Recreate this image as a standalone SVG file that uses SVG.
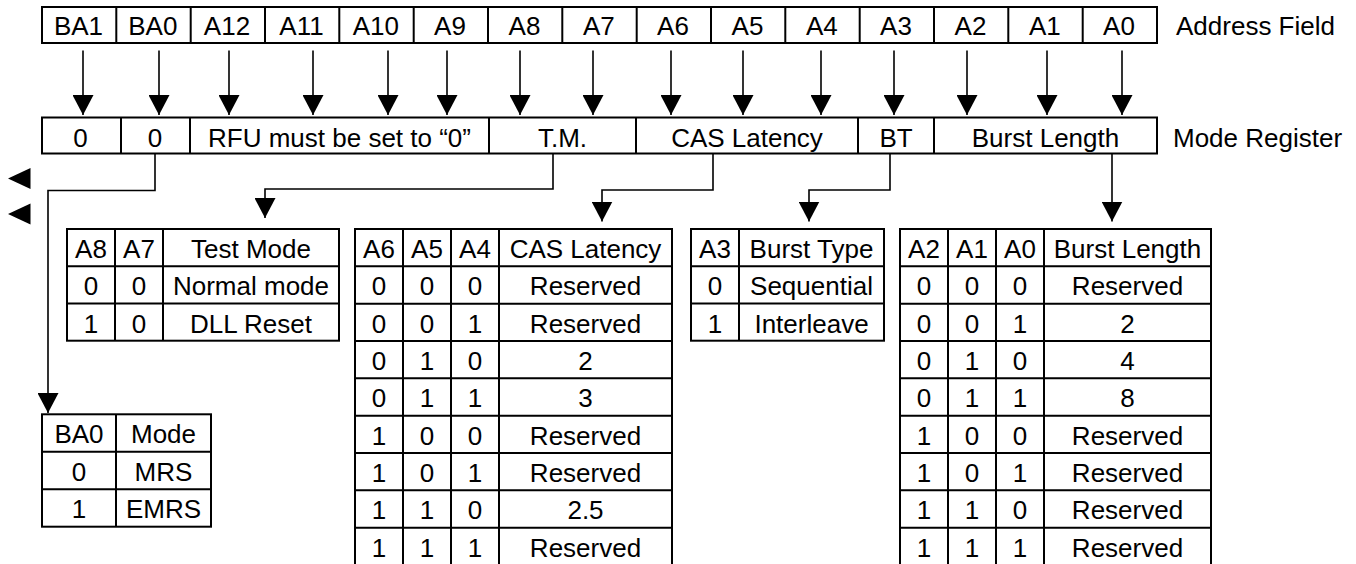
<svg xmlns="http://www.w3.org/2000/svg" width="1356" height="564" viewBox="0 0 1356 564">
<style>
.box{fill:#fff;stroke:#000;stroke-width:2}
.ln{fill:none;stroke:#000;stroke-width:2}
.c{fill:none;stroke:#000;stroke-width:1.6}
text{font-family:"Liberation Sans",Arial,sans-serif;font-size:26px;fill:#000}
.m{text-anchor:middle}
</style>
<defs>
<marker id="ah" viewBox="0 0 20 21" refX="20" refY="10.5" markerWidth="20" markerHeight="21" markerUnits="userSpaceOnUse" orient="auto">
<path d="M0,0 L20,10.5 L0,21 z" fill="#000"/>
</marker>
</defs>
<rect width="1356" height="564" fill="#fff"/>

<g id="address-field">
<rect class="box" x="42" y="7" width="1115" height="36"/>
<path class="ln" d="M116.3,7V43M190.7,7V43M265,7V43M339.3,7V43M413.7,7V43M488,7V43M562.3,7V43M636.7,7V43M711,7V43M785.3,7V43M859.7,7V43M934,7V43M1008.3,7V43M1082.7,7V43"/>
<g class="m">
<text x="78.5" y="34.5">BA1</text>
<text x="152.8" y="34.5">BA0</text>
<text x="227" y="34.5">A12</text>
<text x="301.5" y="34.5">A11</text>
<text x="375.8" y="34.5">A10</text>
<text x="450" y="34.5">A9</text>
<text x="524.5" y="34.5">A8</text>
<text x="598.8" y="34.5">A7</text>
<text x="673" y="34.5">A6</text>
<text x="747.5" y="34.5">A5</text>
<text x="821.8" y="34.5">A4</text>
<text x="896" y="34.5">A3</text>
<text x="970.5" y="34.5">A2</text>
<text x="1044.8" y="34.5">A1</text>
<text x="1119" y="34.5">A0</text>
</g>
<text x="1176" y="34.5">Address Field</text>
</g>

<g id="mode-register">
<rect class="box" x="42" y="117.5" width="1115" height="36"/>
<path class="ln" d="M121,117.5V153.5M190,117.5V153.5M489,117.5V153.5M636,117.5V153.5M858,117.5V153.5M934,117.5V153.5"/>
<g class="m">
<text x="80.5" y="146.5">0</text>
<text x="155" y="146.5">0</text>
<text x="339.5" y="146.5">RFU must be set to “0”</text>
<text x="562.5" y="146.5">T.M.</text>
<text x="747" y="146.5">CAS Latency</text>
<text x="896" y="146.5">BT</text>
<text x="1045.5" y="146.5">Burst Length</text>
</g>
<text x="1173" y="146.5">Mode Register</text>
</g>

<g id="connectors">
<path class="c" marker-end="url(#ah)" d="M83,50.5V115"/>
<path class="c" marker-end="url(#ah)" d="M159,50.5V115"/>
<path class="c" marker-end="url(#ah)" d="M229,50.5V115"/>
<path class="c" marker-end="url(#ah)" d="M313,50.5V115"/>
<path class="c" marker-end="url(#ah)" d="M388,50.5V115"/>
<path class="c" marker-end="url(#ah)" d="M447,50.5V115"/>
<path class="c" marker-end="url(#ah)" d="M520,50.5V115"/>
<path class="c" marker-end="url(#ah)" d="M593,50.5V115"/>
<path class="c" marker-end="url(#ah)" d="M671,50.5V115"/>
<path class="c" marker-end="url(#ah)" d="M743,50.5V115"/>
<path class="c" marker-end="url(#ah)" d="M821,50.5V115"/>
<path class="c" marker-end="url(#ah)" d="M894,50.5V115"/>
<path class="c" marker-end="url(#ah)" d="M967,50.5V115"/>
<path class="c" marker-end="url(#ah)" d="M1047,50.5V115"/>
<path class="c" marker-end="url(#ah)" d="M1122,50.5V115"/>
<path class="c" marker-end="url(#ah)" d="M155,153.5V190.5H48V413"/>
<path class="c" marker-end="url(#ah)" d="M553,153.5V189H265V218"/>
<path class="c" marker-end="url(#ah)" d="M713,153.5V190H602V221.5"/>
<path class="c" marker-end="url(#ah)" d="M890,153.5V190H809V221.5"/>
<path class="c" marker-end="url(#ah)" d="M1112,153.5V221.5"/>
<polygon points="8,178.5 30.5,168 30.5,189" fill="#000"/>
<polygon points="8,214 30.5,203.5 30.5,224.5" fill="#000"/>
</g>

<g id="test-mode-table">
<rect class="box" x="67" y="229" width="272" height="111.7"/>
<path class="ln" d="M115,229V340.7M163,229V340.7M67,266.3H339M67,303.5H339"/>
<g class="m">
<text x="91" y="258">A8</text><text x="139" y="258">A7</text><text x="251" y="258">Test Mode</text>
<text x="91" y="295.3">0</text><text x="139" y="295.3">0</text><text x="251" y="295.3">Normal mode</text>
<text x="91" y="332.5">1</text><text x="139" y="332.5">0</text><text x="251" y="332.5">DLL Reset</text>
</g>
</g>

<g id="cas-latency-table">
<rect class="box" x="355" y="229" width="317" height="336"/>
<path class="ln" d="M403,229V565M451,229V565M499,229V565M355,266.33H672M355,303.67H672M355,341H672M355,378.33H672M355,415.67H672M355,453H672M355,490.33H672M355,527.67H672"/>
<g class="m">
<text x="379" y="258">A6</text><text x="427" y="258">A5</text><text x="475" y="258">A4</text><text x="585.5" y="258">CAS Latency</text>
<text x="379" y="295.3">0</text><text x="427" y="295.3">0</text><text x="475" y="295.3">0</text><text x="585.5" y="295.3">Reserved</text>
<text x="379" y="332.7">0</text><text x="427" y="332.7">0</text><text x="475" y="332.7">1</text><text x="585.5" y="332.7">Reserved</text>
<text x="379" y="370">0</text><text x="427" y="370">1</text><text x="475" y="370">0</text><text x="585.5" y="370">2</text>
<text x="379" y="407.3">0</text><text x="427" y="407.3">1</text><text x="475" y="407.3">1</text><text x="585.5" y="407.3">3</text>
<text x="379" y="444.7">1</text><text x="427" y="444.7">0</text><text x="475" y="444.7">0</text><text x="585.5" y="444.7">Reserved</text>
<text x="379" y="482">1</text><text x="427" y="482">0</text><text x="475" y="482">1</text><text x="585.5" y="482">Reserved</text>
<text x="379" y="519.3">1</text><text x="427" y="519.3">1</text><text x="475" y="519.3">0</text><text x="585.5" y="519.3">2.5</text>
<text x="379" y="556.7">1</text><text x="427" y="556.7">1</text><text x="475" y="556.7">1</text><text x="585.5" y="556.7">Reserved</text>
</g>
</g>

<g id="burst-type-table">
<rect class="box" x="691" y="229" width="193" height="111.7"/>
<path class="ln" d="M739,229V340.7M691,266.3H884M691,303.5H884"/>
<g class="m">
<text x="715" y="258">A3</text><text x="811.5" y="258">Burst Type</text>
<text x="715" y="295.3">0</text><text x="811.5" y="295.3">Sequential</text>
<text x="715" y="332.5">1</text><text x="811.5" y="332.5">Interleave</text>
</g>
</g>

<g id="burst-length-table">
<rect class="box" x="900" y="229" width="311" height="336"/>
<path class="ln" d="M948,229V565M996,229V565M1044,229V565M900,266.33H1211M900,303.67H1211M900,341H1211M900,378.33H1211M900,415.67H1211M900,453H1211M900,490.33H1211M900,527.67H1211"/>
<g class="m">
<text x="924" y="258">A2</text><text x="972" y="258">A1</text><text x="1020" y="258">A0</text><text x="1127.5" y="258">Burst Length</text>
<text x="924" y="295.3">0</text><text x="972" y="295.3">0</text><text x="1020" y="295.3">0</text><text x="1127.5" y="295.3">Reserved</text>
<text x="924" y="332.7">0</text><text x="972" y="332.7">0</text><text x="1020" y="332.7">1</text><text x="1127.5" y="332.7">2</text>
<text x="924" y="370">0</text><text x="972" y="370">1</text><text x="1020" y="370">0</text><text x="1127.5" y="370">4</text>
<text x="924" y="407.3">0</text><text x="972" y="407.3">1</text><text x="1020" y="407.3">1</text><text x="1127.5" y="407.3">8</text>
<text x="924" y="444.7">1</text><text x="972" y="444.7">0</text><text x="1020" y="444.7">0</text><text x="1127.5" y="444.7">Reserved</text>
<text x="924" y="482">1</text><text x="972" y="482">0</text><text x="1020" y="482">1</text><text x="1127.5" y="482">Reserved</text>
<text x="924" y="519.3">1</text><text x="972" y="519.3">1</text><text x="1020" y="519.3">0</text><text x="1127.5" y="519.3">Reserved</text>
<text x="924" y="556.7">1</text><text x="972" y="556.7">1</text><text x="1020" y="556.7">1</text><text x="1127.5" y="556.7">Reserved</text>
</g>
</g>

<g id="mode-select-table">
<rect class="box" x="42" y="414.3" width="169" height="112.4"/>
<path class="ln" d="M116,414.3V526.7M42,451.8H211M42,489.2H211"/>
<g class="m">
<text x="79" y="443.3">BA0</text><text x="163.5" y="443.3">Mode</text>
<text x="79" y="480.8">0</text><text x="163.5" y="480.8">MRS</text>
<text x="79" y="518.2">1</text><text x="163.5" y="518.2">EMRS</text>
</g>
</g>
</svg>
